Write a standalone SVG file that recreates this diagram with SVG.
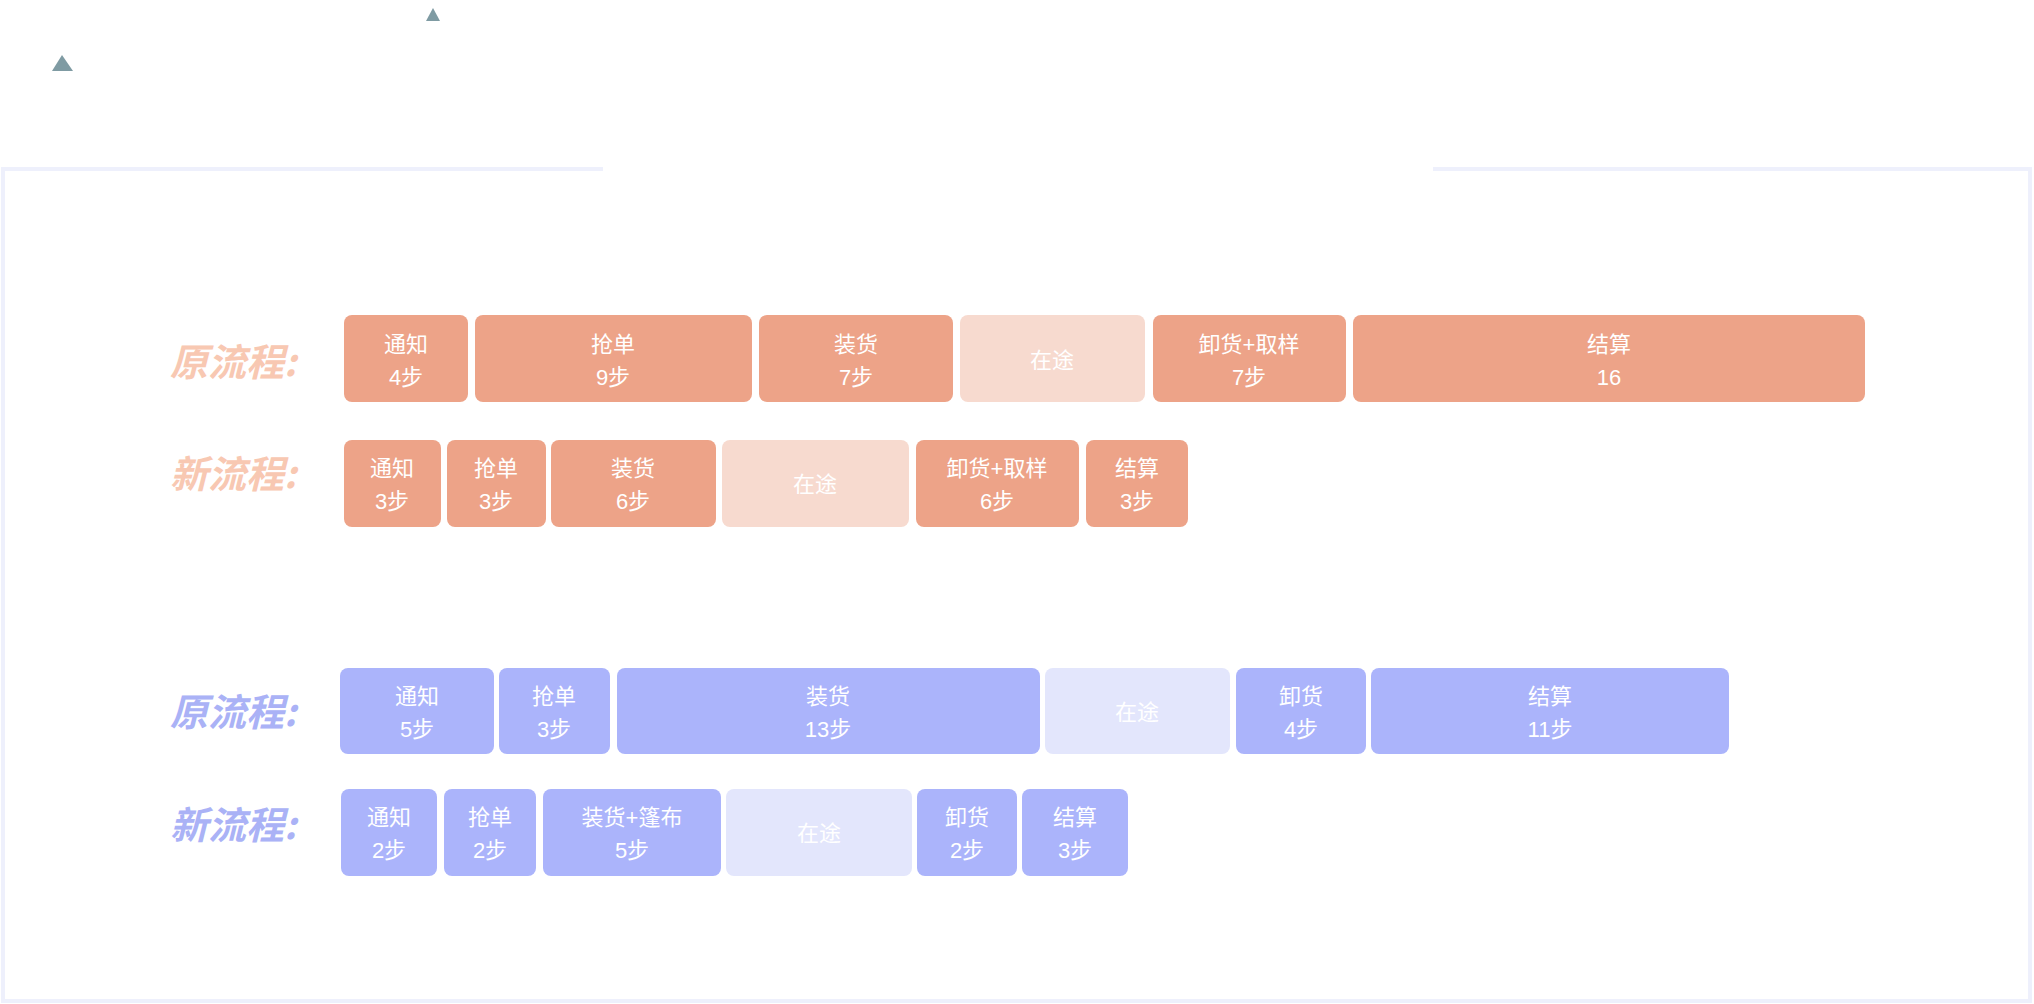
<svg xmlns="http://www.w3.org/2000/svg" width="2034" height="1004" viewBox="0 0 2034 1004">
<style>
.o{fill:#eda388}.ol{fill:#f7dacf}.b{fill:#abb4fb}.bl{fill:#e3e6fc}
.t{font-family:"Liberation Sans","Noto Sans CJK SC",sans-serif;font-size:22px;fill:#fff;text-anchor:middle}
.lo{font-family:"Noto Sans CJK SC",sans-serif;font-size:38px;font-weight:bold;font-style:italic;fill:#f8c8b2}
.lb{font-family:"Noto Sans CJK SC",sans-serif;font-size:38px;font-weight:bold;font-style:italic;fill:#aab2f6}
</style>
<rect width="2034" height="1004" fill="#fff"/>
<path d="M603 169H3V1001H2030V169H1433" fill="none" stroke="#eef0fc" stroke-width="4"/>
<polygon points="62,55 52,71 73,71" fill="#7f9ba3"/>
<polygon points="433,8 426,21 440,21" fill="#7f9ba3"/>
<text class="lo" x="170" y="376">原流程:</text>
<text class="lo" x="170" y="488">新流程:</text>
<text class="lb" x="170" y="726">原流程:</text>
<text class="lb" x="170" y="839">新流程:</text>
<g id="connectors"/>
<g id="o1">
<g id="o1a"><rect class="o" x="344" y="315" width="124" height="87" rx="8"/><text class="t" x="406" y="352">通知</text><text class="t" x="406" y="385">4步</text></g>
<g id="o1b"><rect class="o" x="475" y="315" width="277" height="87" rx="8"/><text class="t" x="613" y="352">抢单</text><text class="t" x="613" y="385">9步</text></g>
<g id="o1c"><rect class="o" x="759" y="315" width="194" height="87" rx="8"/><text class="t" x="856" y="352">装货</text><text class="t" x="856" y="385">7步</text></g>
<g id="o1d"><rect class="ol" x="960" y="315" width="185" height="87" rx="8"/><text class="t" x="1052" y="368">在途</text></g>
<g id="o1e"><rect class="o" x="1153" y="315" width="193" height="87" rx="8"/><text class="t" x="1249" y="352">卸货+取样</text><text class="t" x="1249" y="385">7步</text></g>
<g id="o1f"><rect class="o" x="1353" y="315" width="512" height="87" rx="8"/><text class="t" x="1609" y="352">结算</text><text class="t" x="1609" y="385">16</text></g>
</g>
<g id="o2">
<g id="o2a"><rect class="o" x="344" y="440" width="97" height="87" rx="8"/><text class="t" x="392" y="476">通知</text><text class="t" x="392" y="509">3步</text></g>
<g id="o2b"><rect class="o" x="447" y="440" width="99" height="87" rx="8"/><text class="t" x="496" y="476">抢单</text><text class="t" x="496" y="509">3步</text></g>
<g id="o2c"><rect class="o" x="551" y="440" width="165" height="87" rx="8"/><text class="t" x="633" y="476">装货</text><text class="t" x="633" y="509">6步</text></g>
<g id="o2d"><rect class="ol" x="722" y="440" width="187" height="87" rx="8"/><text class="t" x="815" y="492">在途</text></g>
<g id="o2e"><rect class="o" x="916" y="440" width="163" height="87" rx="8"/><text class="t" x="997" y="476">卸货+取样</text><text class="t" x="997" y="509">6步</text></g>
<g id="o2f"><rect class="o" x="1086" y="440" width="102" height="87" rx="8"/><text class="t" x="1137" y="476">结算</text><text class="t" x="1137" y="509">3步</text></g>
</g>
<g id="b1">
<g id="b1a"><rect class="b" x="340" y="668" width="154" height="86" rx="8"/><text class="t" x="417" y="704">通知</text><text class="t" x="417" y="737">5步</text></g>
<g id="b1b"><rect class="b" x="499" y="668" width="111" height="86" rx="8"/><text class="t" x="554" y="704">抢单</text><text class="t" x="554" y="737">3步</text></g>
<g id="b1c"><rect class="b" x="617" y="668" width="423" height="86" rx="8"/><text class="t" x="828" y="704">装货</text><text class="t" x="828" y="737">13步</text></g>
<g id="b1d"><rect class="bl" x="1045" y="668" width="185" height="86" rx="8"/><text class="t" x="1137" y="720">在途</text></g>
<g id="b1e"><rect class="b" x="1236" y="668" width="130" height="86" rx="8"/><text class="t" x="1301" y="704">卸货</text><text class="t" x="1301" y="737">4步</text></g>
<g id="b1f"><rect class="b" x="1371" y="668" width="358" height="86" rx="8"/><text class="t" x="1550" y="704">结算</text><text class="t" x="1550" y="737">11步</text></g>
</g>
<g id="b2">
<g id="b2a"><rect class="b" x="341" y="789" width="96" height="87" rx="8"/><text class="t" x="389" y="825">通知</text><text class="t" x="389" y="858">2步</text></g>
<g id="b2b"><rect class="b" x="444" y="789" width="92" height="87" rx="8"/><text class="t" x="490" y="825">抢单</text><text class="t" x="490" y="858">2步</text></g>
<g id="b2c"><rect class="b" x="543" y="789" width="178" height="87" rx="8"/><text class="t" x="632" y="825">装货+篷布</text><text class="t" x="632" y="858">5步</text></g>
<g id="b2d"><rect class="bl" x="726" y="789" width="186" height="87" rx="8"/><text class="t" x="819" y="841">在途</text></g>
<g id="b2e"><rect class="b" x="917" y="789" width="100" height="87" rx="8"/><text class="t" x="967" y="825">卸货</text><text class="t" x="967" y="858">2步</text></g>
<g id="b2f"><rect class="b" x="1022" y="789" width="106" height="87" rx="8"/><text class="t" x="1075" y="825">结算</text><text class="t" x="1075" y="858">3步</text></g>
</g>
</svg>
